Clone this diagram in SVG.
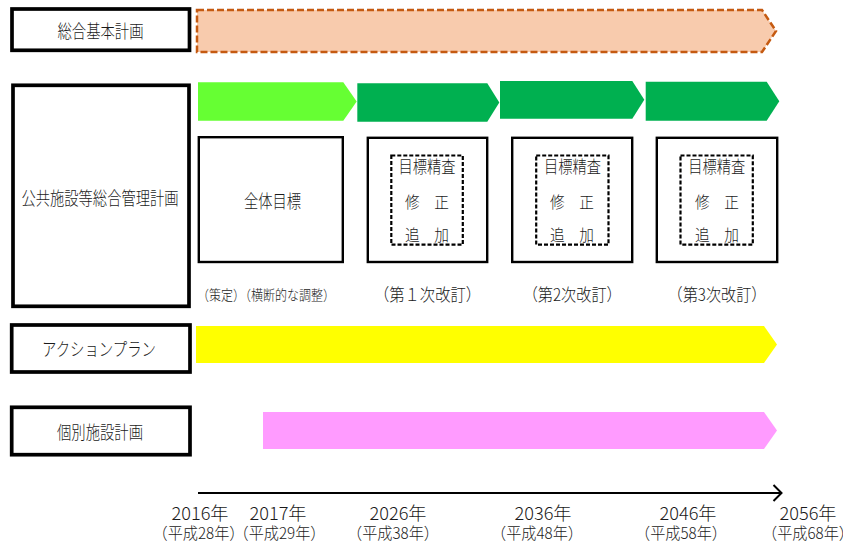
<svg xmlns="http://www.w3.org/2000/svg" width="843" height="544" viewBox="0 0 843 544">
  <style>
    text { font-family: "Noto Sans CJK JP", "Liberation Sans", sans-serif; font-weight: 300; fill: #1a1a1a; text-anchor: middle; dominant-baseline: central; }
    .lbl { fill: #fff; stroke: #000; stroke-width: 3.7; }
    .box { fill: #fff; stroke: #000; stroke-width: 2.4; }
    .dash { fill: none; stroke: #000; stroke-width: 2.2; stroke-dasharray: 4 2; }
    .t18 { font-size: 18px; }
    .t17 { font-size: 17px; }
    .t16 { font-size: 16px; }
    .t14 { font-size: 14px; }
    .yr { font-size: 18px; }
    .yr2 { font-size: 16px; }
  </style>

  <!-- Row labels -->
  <g id="sogo-kihon">
    <rect class="lbl" x="12" y="9" width="177.5" height="41.3"/>
    <text class="t18" x="100.5" y="29.5" textLength="86" lengthAdjust="spacingAndGlyphs">総合基本計画</text>
  </g>
  <g id="kokyo-shisetsu">
    <rect class="lbl" x="13" y="85.3" width="176" height="221"/>
    <text class="t18" x="100" y="196.5" textLength="157" lengthAdjust="spacingAndGlyphs">公共施設等総合管理計画</text>
  </g>
  <g id="action-plan">
    <rect class="lbl" x="11.7" y="325" width="178.3" height="47"/>
    <text class="t18" x="99" y="348.3" textLength="114" lengthAdjust="spacingAndGlyphs">アクションプラン</text>
  </g>
  <g id="kobetsu">
    <rect class="lbl" x="11.7" y="407.3" width="178.3" height="47.4"/>
    <text class="t18" x="100" y="431" textLength="86" lengthAdjust="spacingAndGlyphs">個別施設計画</text>
  </g>

  <!-- Bars -->
  <g id="bar-sogo">
    <path d="M197,10 H762 L776,31 L762,52 H197 Z" fill="#F8CBAD" stroke="#C55A11" stroke-width="2.5" stroke-dasharray="7 3"/>
  </g>
  <g id="bar-phase0">
    <path d="M198,82.3 H343.3 L356.7,101.5 L343.3,120.7 H198 Z" fill="#66FF33"/>
  </g>
  <g id="bar-phase1">
    <path d="M357.3,83.3 H487.3 L499.3,102.5 L487.3,121.7 H357.3 Z" fill="#00B050"/>
  </g>
  <g id="bar-phase2">
    <path d="M500,81 H632.3 L644.3,99.8 L632.3,118.7 H500 Z" fill="#00B050"/>
  </g>
  <g id="bar-phase3">
    <path d="M645.7,81.7 H766.7 L779.3,101.2 L766.7,120.7 H645.7 Z" fill="#00B050"/>
  </g>
  <g id="bar-action">
    <path d="M196,326 H764 L777,344.5 L764,363 H196 Z" fill="#FFFF00"/>
  </g>
  <g id="bar-kobetsu">
    <path d="M263,412 H764 L777,430.5 L764,449 H263 Z" fill="#FF9BFF"/>
  </g>

  <!-- Phase boxes -->
  <g id="phase0">
    <rect class="box" x="198.8" y="137.2" width="144" height="124.8"/>
    <text class="t18" x="272.5" y="200" textLength="57" lengthAdjust="spacingAndGlyphs">全体目標</text>
    <text class="t14" x="266" y="294" textLength="138" lengthAdjust="spacingAndGlyphs">（策定）（横断的な調整）</text>
  </g>
  <g id="phase1">
    <rect class="box" x="367.8" y="137.8" width="119.4" height="124.2"/>
    <rect class="dash" x="391.3" y="155.5" width="71.5" height="89.2"/>
    <text class="t17" x="427" y="165.5" textLength="57" lengthAdjust="spacingAndGlyphs">目標精査</text>
    <text class="t16" x="427" y="200.5" textLength="44" lengthAdjust="spacingAndGlyphs">修　正</text>
    <text class="t16" x="427" y="234" textLength="44" lengthAdjust="spacingAndGlyphs">追　加</text>
    <text class="t17" x="427.5" y="293.5" textLength="107" lengthAdjust="spacingAndGlyphs">（第１次改訂）</text>
  </g>
  <g id="phase2">
    <rect class="box" x="512.2" y="137.8" width="120" height="124.2"/>
    <rect class="dash" x="536.2" y="155.5" width="72.3" height="89.2"/>
    <text class="t17" x="572.4" y="165.5" textLength="57" lengthAdjust="spacingAndGlyphs">目標精査</text>
    <text class="t16" x="572" y="200.5" textLength="44" lengthAdjust="spacingAndGlyphs">修　正</text>
    <text class="t16" x="572" y="234" textLength="44" lengthAdjust="spacingAndGlyphs">追　加</text>
    <text class="t17" x="572.2" y="293.5" textLength="99" lengthAdjust="spacingAndGlyphs">（第2次改訂）</text>
  </g>
  <g id="phase3">
    <rect class="box" x="656.8" y="137.8" width="120.4" height="124.2"/>
    <rect class="dash" x="680.5" y="155.5" width="72.3" height="89.2"/>
    <text class="t17" x="716.7" y="165.5" textLength="57" lengthAdjust="spacingAndGlyphs">目標精査</text>
    <text class="t16" x="717" y="200.5" textLength="44" lengthAdjust="spacingAndGlyphs">修　正</text>
    <text class="t16" x="717" y="234" textLength="44" lengthAdjust="spacingAndGlyphs">追　加</text>
    <text class="t17" x="717" y="293.5" textLength="99" lengthAdjust="spacingAndGlyphs">（第3次改訂）</text>
  </g>

  <!-- Timeline axis -->
  <g id="connectors" fill="none" stroke="#000" stroke-width="2">
    <line x1="198" y1="493" x2="781" y2="493"/>
    <polyline points="773.5,485 781.5,493 773.5,501"/>
  </g>

  <!-- Year labels -->
  <g id="years">
    <text class="yr" x="200" y="511.5" textLength="57" lengthAdjust="spacingAndGlyphs">2016年</text>
    <text class="yr2" x="198.5" y="532" textLength="92" lengthAdjust="spacingAndGlyphs">（平成28年）</text>
    <text class="yr" x="278" y="511.5" textLength="57" lengthAdjust="spacingAndGlyphs">2017年</text>
    <text class="yr2" x="279.5" y="532" textLength="92" lengthAdjust="spacingAndGlyphs">（平成29年）</text>
    <text class="yr" x="398" y="511.5" textLength="57" lengthAdjust="spacingAndGlyphs">2026年</text>
    <text class="yr2" x="393" y="532" textLength="92" lengthAdjust="spacingAndGlyphs">（平成38年）</text>
    <text class="yr" x="543" y="511.5" textLength="57" lengthAdjust="spacingAndGlyphs">2036年</text>
    <text class="yr2" x="537" y="532" textLength="92" lengthAdjust="spacingAndGlyphs">（平成48年）</text>
    <text class="yr" x="688" y="511.5" textLength="57" lengthAdjust="spacingAndGlyphs">2046年</text>
    <text class="yr2" x="681" y="532" textLength="92" lengthAdjust="spacingAndGlyphs">（平成58年）</text>
    <text class="yr" x="808" y="511.5" textLength="57" lengthAdjust="spacingAndGlyphs">2056年</text>
    <text class="yr2" x="808" y="532" textLength="92" lengthAdjust="spacingAndGlyphs">（平成68年）</text>
  </g>
</svg>
